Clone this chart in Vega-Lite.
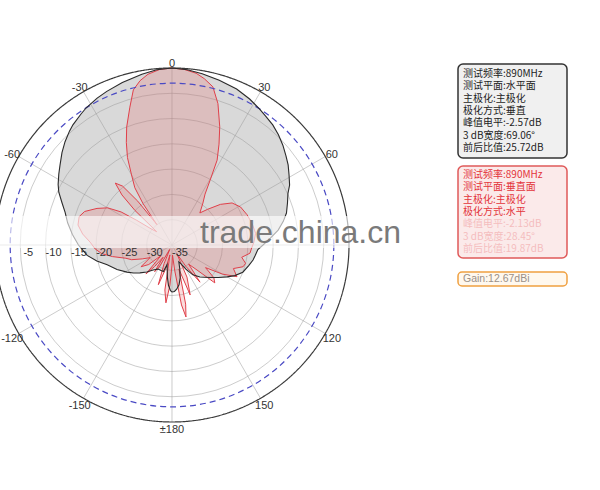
{
  "$schema": "https://vega.github.io/schema/vega-lite/v6.json",
  "padding": 0,
  "background": "white",
  "bounds": "flush",
  "spacing": 18,
  "config": {"view": {"stroke": null}},
  "datasets": {
    "horizontal": [
      {"angle": -180, "db": -25.7}, {"angle": -178, "db": -26}, {"angle": -175, "db": -27}, {"angle": -172, "db": -28.5},
      {"angle": -169, "db": -30}, {"angle": -166, "db": -31}, {"angle": -162, "db": -29.5}, {"angle": -157, "db": -29.5},
      {"angle": -150, "db": -29.5}, {"angle": -143, "db": -28.8}, {"angle": -137, "db": -27.7}, {"angle": -131, "db": -26.6},
      {"angle": -126, "db": -25.6}, {"angle": -121, "db": -24.6}, {"angle": -114, "db": -23.1}, {"angle": -107, "db": -21.6},
      {"angle": -102, "db": -19.8}, {"angle": -97, "db": -18.1}, {"angle": -90, "db": -16.5}, {"angle": -84, "db": -15.2},
      {"angle": -78, "db": -13.9}, {"angle": -73, "db": -12.9}, {"angle": -69, "db": -11.7}, {"angle": -65, "db": -10.3},
      {"angle": -62, "db": -9.5}, {"angle": -58, "db": -8.6}, {"angle": -54.5, "db": -7.8}, {"angle": -50, "db": -6.6},
      {"angle": -46, "db": -5.6}, {"angle": -42, "db": -4.7}, {"angle": -39.5, "db": -4.2}, {"angle": -35, "db": -3.5},
      {"angle": -32, "db": -3.0}, {"angle": -27, "db": -2.4}, {"angle": -23, "db": -2.0}, {"angle": -17, "db": -1.4},
      {"angle": -10, "db": -0.7}, {"angle": -5, "db": -0.2}, {"angle": 0, "db": 0}, {"angle": 5, "db": -0.2},
      {"angle": 10, "db": -0.6}, {"angle": 16, "db": -1.1}, {"angle": 22.5, "db": -1.6}, {"angle": 28, "db": -2.3},
      {"angle": 32.7, "db": -3.0}, {"angle": 36, "db": -3.5}, {"angle": 40, "db": -4.0}, {"angle": 44, "db": -4.7},
      {"angle": 48, "db": -5.5}, {"angle": 52, "db": -6.4}, {"angle": 55.4, "db": -7.1}, {"angle": 59, "db": -8.0},
      {"angle": 63, "db": -8.9}, {"angle": 66, "db": -9.9}, {"angle": 70, "db": -10.7}, {"angle": 74.4, "db": -11.5},
      {"angle": 78, "db": -12.5}, {"angle": 82, "db": -13.8}, {"angle": 86, "db": -15.5}, {"angle": 90, "db": -17},
      {"angle": 93, "db": -18}, {"angle": 97, "db": -18.4}, {"angle": 100.5, "db": -18.7}, {"angle": 105, "db": -19.3},
      {"angle": 111, "db": -20.0}, {"angle": 116, "db": -21.2}, {"angle": 120, "db": -22.4}, {"angle": 125, "db": -23.8},
      {"angle": 130, "db": -25.0}, {"angle": 135, "db": -26}, {"angle": 139, "db": -26.6}, {"angle": 145, "db": -27.8},
      {"angle": 150, "db": -29.5}, {"angle": 155, "db": -31}, {"angle": 158, "db": -31.4}, {"angle": 162, "db": -30},
      {"angle": 166, "db": -28.3}, {"angle": 170, "db": -27}, {"angle": 174, "db": -26.2}, {"angle": 177, "db": -25.8},
      {"angle": 180, "db": -25.7}
    ],
    "vertical": [
      {"angle": -180, "db": -31}, {"angle": -177, "db": -27}, {"angle": -174, "db": -23.5}, {"angle": -171, "db": -26},
      {"angle": -168, "db": -33}, {"angle": -165, "db": -30}, {"angle": -161, "db": -26.7}, {"angle": -157, "db": -31},
      {"angle": -153, "db": -34}, {"angle": -150, "db": -30}, {"angle": -147, "db": -28.7}, {"angle": -144, "db": -32},
      {"angle": -141, "db": -29.5}, {"angle": -138, "db": -27.3}, {"angle": -134, "db": -32}, {"angle": -130, "db": -29},
      {"angle": -125, "db": -27.5}, {"angle": -120, "db": -30}, {"angle": -115, "db": -28.5}, {"angle": -110, "db": -26.5},
      {"angle": -106, "db": -25.5}, {"angle": -101, "db": -23}, {"angle": -97, "db": -21}, {"angle": -93, "db": -19.8},
      {"angle": -88, "db": -18.8}, {"angle": -83, "db": -17.2}, {"angle": -78, "db": -16}, {"angle": -73, "db": -15.8},
      {"angle": -69, "db": -16.5}, {"angle": -64, "db": -18.5}, {"angle": -60, "db": -20.3}, {"angle": -57, "db": -23},
      {"angle": -55, "db": -26.5}, {"angle": -52, "db": -30}, {"angle": -49, "db": -31}, {"angle": -47, "db": -25},
      {"angle": -45, "db": -21}, {"angle": -42.5, "db": -18.4}, {"angle": -40, "db": -19.8}, {"angle": -38, "db": -24},
      {"angle": -36.5, "db": -30}, {"angle": -35, "db": -25}, {"angle": -33, "db": -21.5}, {"angle": -30, "db": -19},
      {"angle": -27, "db": -15.6}, {"angle": -24, "db": -12.8}, {"angle": -21, "db": -10}, {"angle": -17, "db": -6.5},
      {"angle": -14, "db": -3.4}, {"angle": -11, "db": -1.9}, {"angle": -8, "db": -0.9}, {"angle": -4, "db": -0.2},
      {"angle": 0, "db": 0}, {"angle": 4, "db": -0.2}, {"angle": 8, "db": -0.7}, {"angle": 11, "db": -1.5},
      {"angle": 14.5, "db": -2.7}, {"angle": 18, "db": -5.6}, {"angle": 22, "db": -9.8}, {"angle": 25, "db": -13},
      {"angle": 28, "db": -16}, {"angle": 30.5, "db": -20.2}, {"angle": 33, "db": -23}, {"angle": 36.4, "db": -24.7},
      {"angle": 41, "db": -26.6}, {"angle": 45, "db": -25}, {"angle": 50, "db": -22.5}, {"angle": 55, "db": -20.5},
      {"angle": 61, "db": -19.5}, {"angle": 68, "db": -19}, {"angle": 75, "db": -18.6}, {"angle": 82, "db": -18.3},
      {"angle": 88, "db": -18.8}, {"angle": 93, "db": -19.3}, {"angle": 96, "db": -19.5}, {"angle": 100, "db": -21},
      {"angle": 104, "db": -20}, {"angle": 107, "db": -20.3}, {"angle": 111, "db": -22}, {"angle": 116, "db": -20.7},
      {"angle": 120, "db": -23.5}, {"angle": 124, "db": -27}, {"angle": 128, "db": -24.5}, {"angle": 131.5, "db": -23.7},
      {"angle": 135, "db": -28}, {"angle": 139, "db": -30}, {"angle": 143, "db": -25.8}, {"angle": 147, "db": -30},
      {"angle": 151, "db": -33}, {"angle": 155, "db": -28}, {"angle": 160, "db": -24.5}, {"angle": 164, "db": -30},
      {"angle": 167, "db": -23}, {"angle": 169, "db": -20.5}, {"angle": 171, "db": -23}, {"angle": 174, "db": -30},
      {"angle": 177, "db": -33}, {"angle": 180, "db": -31}
    ],
    "rings": [{"db": -30}, {"db": -25}, {"db": -20}, {"db": -15}, {"db": -10}, {"db": -5}],
    "spokes": [{"angle": 0}, {"angle": 30}, {"angle": 60}, {"angle": 90}, {"angle": 120}, {"angle": 150}, {"angle": 180}, {"angle": 210}, {"angle": 240}, {"angle": 270}, {"angle": 300}, {"angle": 330}],
    "angleLabels": [
      {"angle": 0, "label": "0"}, {"angle": 30, "label": "30"}, {"angle": 60, "label": "60"}, {"angle": 120, "label": "120"},
      {"angle": 150, "label": "150"}, {"angle": 180, "label": "±180"}, {"angle": -150, "label": "-150"},
      {"angle": -120, "label": "-120"}, {"angle": -60, "label": "-60"}, {"angle": -30, "label": "-30"}
    ],
    "radialLabels": [
      {"db": -5, "label": "-5"}, {"db": -10, "label": "-10"}, {"db": -15, "label": "-15"}, {"db": -20, "label": "-20"},
      {"db": -25, "label": "-25"}, {"db": -30, "label": "-30"}, {"db": -35, "label": "-35"}
    ]
  },
  "hconcat": [
    {
      "width": 440,
      "height": 490,
      "layer": [
        {
          "data": {"name": "horizontal"},
          "transform": [
            {"calculate": "(max(datum.db, -35) + 35) * sin(datum.angle * PI / 180)", "as": "px"},
            {"calculate": "(max(datum.db, -35) + 35) * cos(datum.angle * PI / 180)", "as": "py"}
          ],
          "mark": {"type": "line", "fill": "#d9d9d9", "stroke": "transparent", "strokeWidth": 0, "clip": true},
          "encoding": {
            "x": {"field": "px", "type": "quantitative", "axis": null, "scale": {"domain": [-34.011, 52.994], "nice": false, "zero": false}},
            "y": {"field": "py", "type": "quantitative", "axis": null, "scale": {"domain": [-48.446, 48.446], "nice": false, "zero": false}},
            "order": {"field": "angle", "type": "quantitative"}
          }
        },
        {
          "data": {"name": "spokes"},
          "transform": [
            {"calculate": "0", "as": "cx"},
            {"calculate": "0", "as": "cy"},
            {"calculate": "35 * sin(datum.angle * PI / 180)", "as": "ex"},
            {"calculate": "35 * cos(datum.angle * PI / 180)", "as": "ey"}
          ],
          "mark": {"type": "rule", "stroke": "#999999", "strokeOpacity": 0.5, "strokeWidth": 1, "clip": true},
          "encoding": {
            "x": {"field": "cx", "type": "quantitative", "axis": null, "scale": {"domain": [-34.011, 52.994], "nice": false, "zero": false}},
            "y": {"field": "cy", "type": "quantitative", "axis": null, "scale": {"domain": [-48.446, 48.446], "nice": false, "zero": false}},
            "x2": {"field": "ex"},
            "y2": {"field": "ey"}
          }
        },
        {
          "data": {"name": "rings"},
          "transform": [
            {"calculate": "datum.db + 35", "as": "r"},
            {"calculate": "0", "as": "cx"},
            {"calculate": "0", "as": "cy"}
          ],
          "mark": {"type": "point", "shape": "circle", "filled": false, "stroke": "#999999", "strokeOpacity": 0.5, "opacity": 1, "strokeWidth": 1, "clip": true},
          "encoding": {
            "x": {"field": "cx", "type": "quantitative", "axis": null, "scale": {"domain": [-34.011, 52.994], "nice": false, "zero": false}},
            "y": {"field": "cy", "type": "quantitative", "axis": null, "scale": {"domain": [-48.446, 48.446], "nice": false, "zero": false}},
            "size": {"field": "r", "type": "quantitative", "legend": null, "scale": {"type": "pow", "exponent": 2, "domain": [0, 35], "range": [0, 125316], "zero": true}}
          }
        },
        {
          "data": {"name": "vertical"},
          "transform": [
            {"calculate": "(max(datum.db, -35) + 35) * sin(datum.angle * PI / 180)", "as": "px"},
            {"calculate": "(max(datum.db, -35) + 35) * cos(datum.angle * PI / 180)", "as": "py"}
          ],
          "mark": {"type": "line", "fill": "#e86060", "fillOpacity": 0.22, "stroke": "#e0404a", "strokeWidth": 1, "clip": true},
          "encoding": {
            "x": {"field": "px", "type": "quantitative", "axis": null, "scale": {"domain": [-34.011, 52.994], "nice": false, "zero": false}},
            "y": {"field": "py", "type": "quantitative", "axis": null, "scale": {"domain": [-48.446, 48.446], "nice": false, "zero": false}},
            "order": {"field": "angle", "type": "quantitative"}
          }
        },
        {
          "data": {"values": [{"db": -3, "kind": "-3 dB"}, {"db": 0, "kind": "0 dB"}]},
          "transform": [
            {"calculate": "datum.db + 35", "as": "r"},
            {"calculate": "0", "as": "cx"},
            {"calculate": "0", "as": "cy"}
          ],
          "mark": {"type": "point", "shape": "circle", "filled": false, "opacity": 1, "clip": true},
          "encoding": {
            "x": {"field": "cx", "type": "quantitative", "axis": null, "scale": {"domain": [-34.011, 52.994], "nice": false, "zero": false}},
            "y": {"field": "cy", "type": "quantitative", "axis": null, "scale": {"domain": [-48.446, 48.446], "nice": false, "zero": false}},
            "size": {"field": "r", "type": "quantitative", "legend": null, "scale": {"type": "pow", "exponent": 2, "domain": [0, 35], "range": [0, 125316], "zero": true}},
            "stroke": {"field": "kind", "type": "nominal", "legend": null, "scale": {"domain": ["-3 dB", "0 dB"], "range": ["#4a4ac4", "#3a3a3a"]}},
            "strokeDash": {"field": "kind", "type": "nominal", "legend": null, "scale": {"domain": ["-3 dB", "0 dB"], "range": [[6, 4], [1, 0]]}},
            "strokeWidth": {"value": 1.2}
          }
        },
        {
          "data": {"name": "horizontal"},
          "transform": [
            {"calculate": "(max(datum.db, -35) + 35) * sin(datum.angle * PI / 180)", "as": "px"},
            {"calculate": "(max(datum.db, -35) + 35) * cos(datum.angle * PI / 180)", "as": "py"}
          ],
          "mark": {"type": "line", "stroke": "#2a2a2a", "strokeWidth": 1.1, "clip": true},
          "encoding": {
            "x": {"field": "px", "type": "quantitative", "axis": null, "scale": {"domain": [-34.011, 52.994], "nice": false, "zero": false}},
            "y": {"field": "py", "type": "quantitative", "axis": null, "scale": {"domain": [-48.446, 48.446], "nice": false, "zero": false}},
            "order": {"field": "angle", "type": "quantitative"}
          }
        },
        {
          "data": {"name": "angleLabels"},
          "transform": [
            {"calculate": "36.5 * sin(datum.angle * PI / 180)", "as": "lx"},
            {"calculate": "36.2 * cos(datum.angle * PI / 180)", "as": "ly"}
          ],
          "mark": {"type": "text", "font": "Liberation Sans", "fontSize": 11, "color": "#333333", "align": "center", "baseline": "middle", "dy": 2, "clip": true},
          "encoding": {
            "x": {"field": "lx", "type": "quantitative", "axis": null, "scale": {"domain": [-34.011, 52.994], "nice": false, "zero": false}},
            "y": {"field": "ly", "type": "quantitative", "axis": null, "scale": {"domain": [-48.446, 48.446], "nice": false, "zero": false}},
            "text": {"field": "label"}
          }
        },
        {
          "data": {"name": "radialLabels"},
          "transform": [
            {"calculate": "-(datum.db + 35)", "as": "lx"},
            {"calculate": "0", "as": "ly"}
          ],
          "mark": {"type": "text", "font": "Liberation Sans", "fontSize": 11, "color": "#333333", "align": "center", "baseline": "middle", "dx": 8, "dy": 8, "clip": true},
          "encoding": {
            "x": {"field": "lx", "type": "quantitative", "axis": null, "scale": {"domain": [-34.011, 52.994], "nice": false, "zero": false}},
            "y": {"field": "ly", "type": "quantitative", "axis": null, "scale": {"domain": [-48.446, 48.446], "nice": false, "zero": false}},
            "text": {"field": "label"}
          }
        },
        {
          "data": {"values": [{"x0": -34.011, "x1": 52.994, "y0": 5.73, "y1": -0.59}]},
          "mark": {"type": "rect", "fill": "white", "opacity": 0.62, "clip": true},
          "encoding": {
            "x": {"field": "x0", "type": "quantitative", "axis": null, "scale": {"domain": [-34.011, 52.994], "nice": false, "zero": false}},
            "x2": {"field": "x1"},
            "y": {"field": "y0", "type": "quantitative", "axis": null, "scale": {"domain": [-48.446, 48.446], "nice": false, "zero": false}},
            "y2": {"field": "y1"}
          }
        },
        {
          "data": {"values": [{"wm": "trade.china.cn", "wx": 5.54, "wy": 0.4}]},
          "mark": {"type": "text", "font": "Liberation Sans", "fontSize": 32, "color": "#7a7a7a", "align": "left", "baseline": "alphabetic", "clip": true},
          "encoding": {
            "x": {"field": "wx", "type": "quantitative", "axis": null, "scale": {"domain": [-34.011, 52.994], "nice": false, "zero": false}},
            "y": {"field": "wy", "type": "quantitative", "axis": null, "scale": {"domain": [-48.446, 48.446], "nice": false, "zero": false}},
            "text": {"field": "wm"}
          }
        }
      ]
    },
    {
      "spacing": 12,
      "vconcat": [
        {
          "width": 109,
          "height": 51,
          "data": {"values": [{"t": ""}]},
          "mark": {"type": "text"},
          "encoding": {"text": {"field": "t"}}
        },
        {
          "spacing": 6,
          "vconcat": [
            {
              "width": 109,
              "height": 94,
              "view": {"stroke": "#333333", "strokeWidth": 1.5, "fill": "#f0f0f0", "cornerRadius": 5},
              "data": {"values": [
                {"line": 1, "text": "测试频率:890MHz"},
                {"line": 2, "text": "测试平面:水平面"},
                {"line": 3, "text": "主极化:主极化"},
                {"line": 4, "text": "极化方式:垂直"},
                {"line": 5, "text": "峰值电平:-2.57dB"},
                {"line": 6, "text": "3 dB宽度:69.06°"},
                {"line": 7, "text": "前后比值:25.72dB"}
              ]},
              "mark": {"type": "text", "font": "Noto Sans CJK SC", "fontSize": 10, "lineHeight": 11, "color": "#1e1e1e", "align": "left", "baseline": "middle", "dx": 5},
              "encoding": {
                "x": {"value": 0},
                "y": {"field": "line", "type": "ordinal", "axis": null, "scale": {"type": "point", "padding": 0.8}},
                "text": {"field": "text"}
              }
            },
            {
              "width": 109,
              "height": 92,
              "view": {"stroke": "#e05a5a", "strokeWidth": 1.5, "fill": "#fbeaea", "cornerRadius": 5},
              "data": {"values": [
                {"line": 1, "text": "测试频率:890MHz"},
                {"line": 2, "text": "测试平面:垂直面"},
                {"line": 3, "text": "主极化:主极化"},
                {"line": 4, "text": "极化方式:水平"},
                {"line": 5, "text": "峰值电平:-2.13dB"},
                {"line": 6, "text": "3 dB宽度:28.45°"},
                {"line": 7, "text": "前后比值:19.87dB"}
              ]},
              "mark": {"type": "text", "font": "Noto Sans CJK SC", "fontSize": 10, "lineHeight": 11, "color": "#e3353b", "align": "left", "baseline": "middle", "dx": 5},
              "encoding": {
                "x": {"value": 0},
                "y": {"field": "line", "type": "ordinal", "axis": null, "scale": {"type": "point", "padding": 0.7}},
                "text": {"field": "text"},
                "opacity": {"condition": {"test": "datum.line >= 5", "value": 0.25}, "value": 1}
              }
            }
          ]
        },
        {
          "width": 109,
          "height": 14,
          "view": {"stroke": "#f0a040", "strokeWidth": 1.5, "fill": "#fff8ee", "cornerRadius": 4},
          "data": {"values": [{"line": 1, "text": "Gain:12.67dBi"}]},
          "mark": {"type": "text", "font": "Liberation Sans", "fontSize": 10.5, "color": "#9a9088", "align": "left", "baseline": "middle", "dx": 5},
          "encoding": {
            "x": {"value": 0},
            "y": {"field": "line", "type": "ordinal", "axis": null, "scale": {"type": "point", "padding": 0.5}},
            "text": {"field": "text"}
          }
        }
      ]
    }
  ]
}
